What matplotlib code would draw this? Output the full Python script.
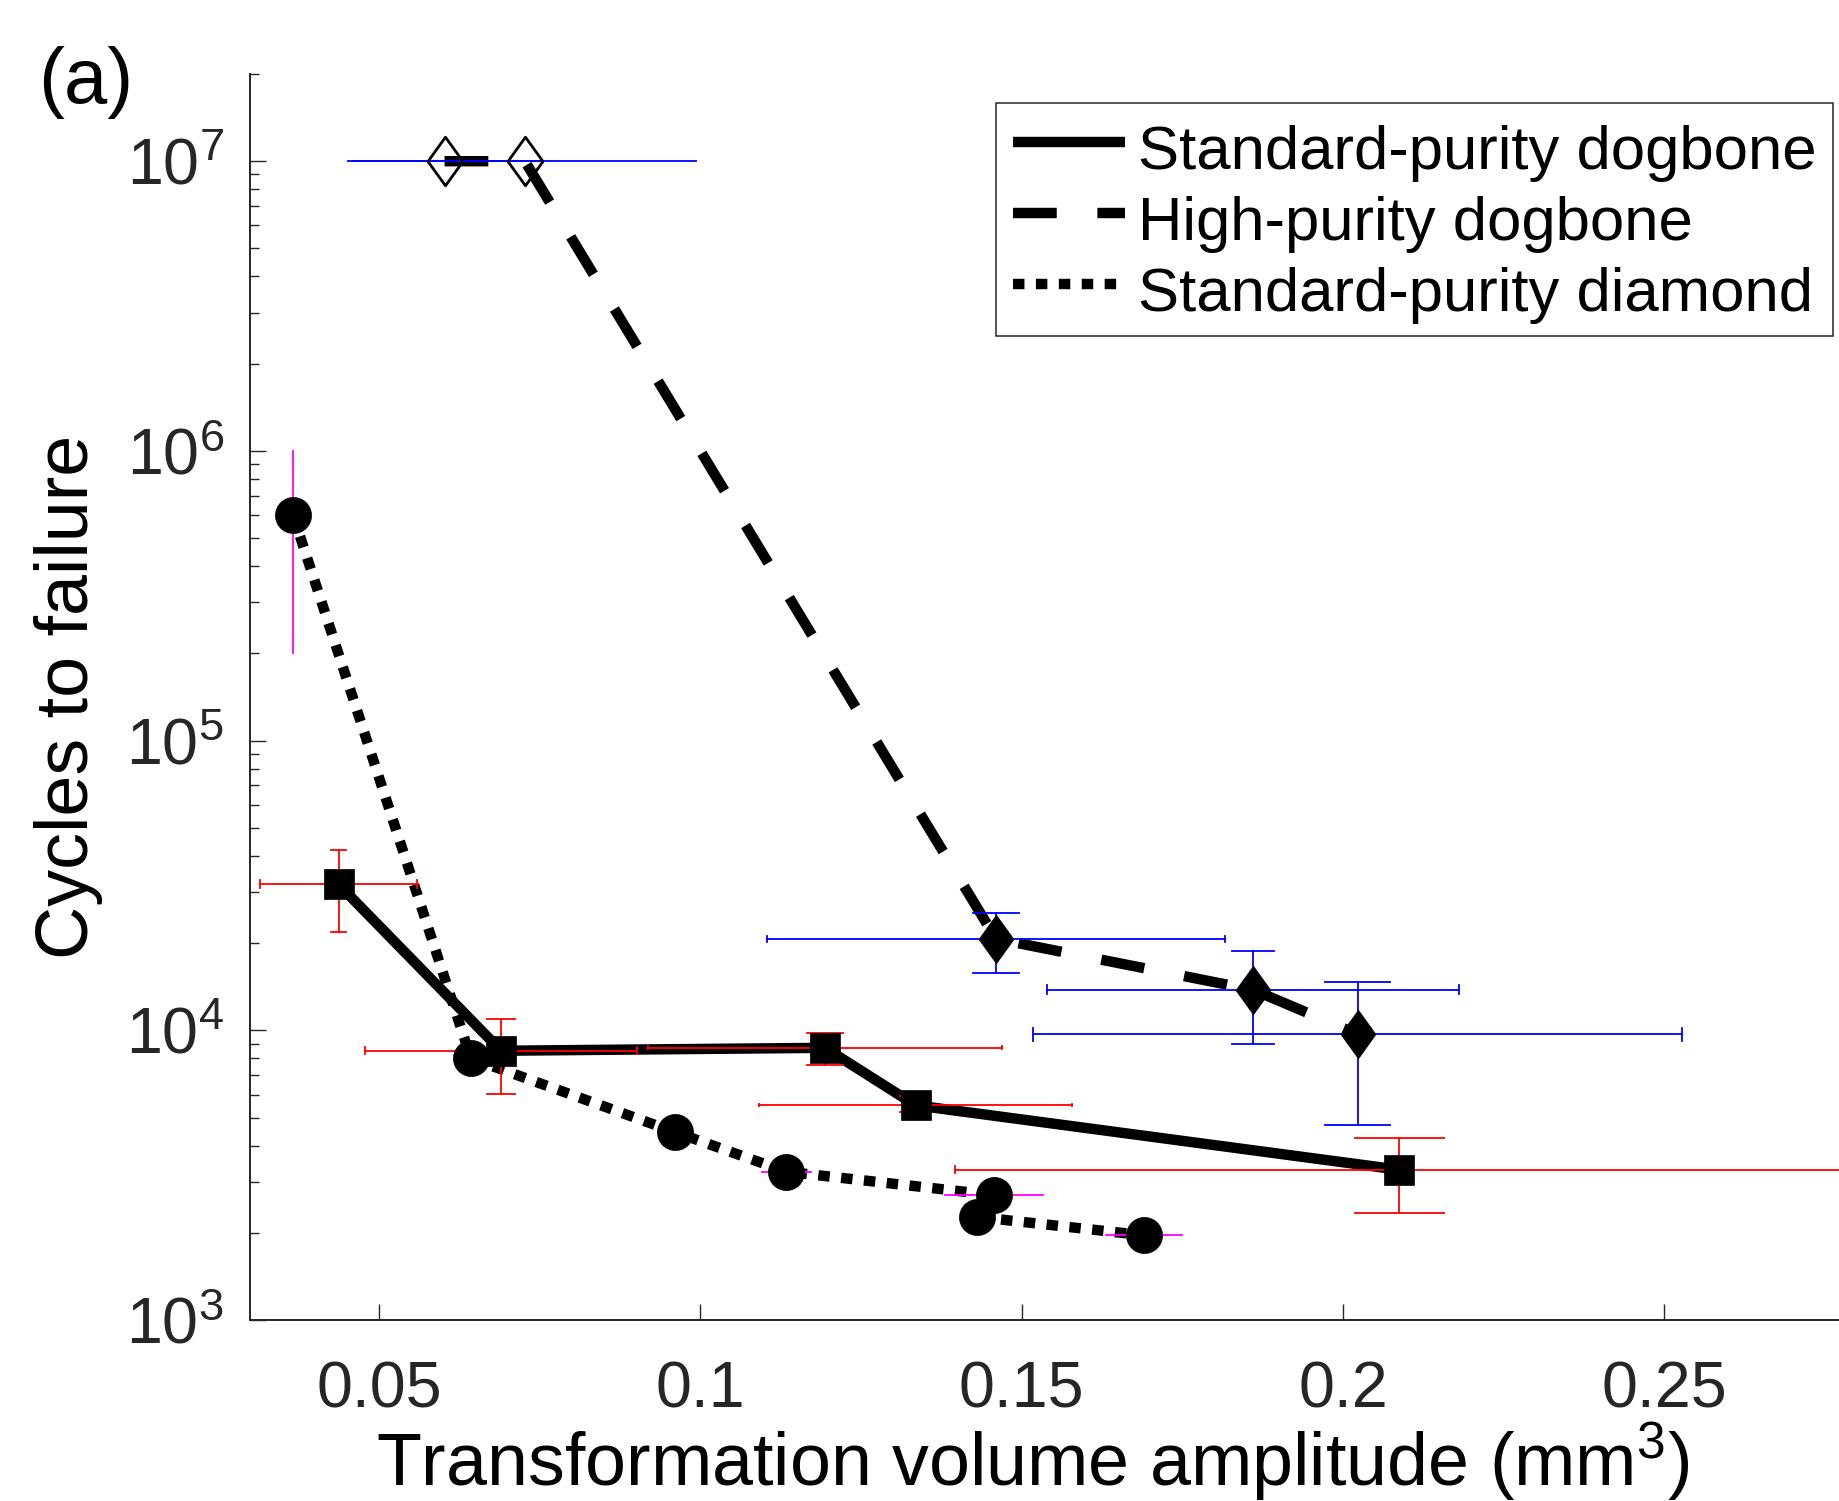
import numpy as np
import matplotlib
matplotlib.use("Agg")
import matplotlib.pyplot as plt
from matplotlib.path import Path
from matplotlib.transforms import Affine2D
from matplotlib.ticker import LogLocator, NullLocator, NullFormatter, LogFormatterSciNotation, FixedLocator, FixedFormatter

plt.rcParams['font.family'] = ['Liberation Sans', 'DejaVu Sans']
plt.rcParams['mathtext.fontset'] = 'custom'
plt.rcParams['mathtext.rm'] = 'Liberation Sans'
plt.rcParams['mathtext.it'] = 'Liberation Sans:italic'
plt.rcParams['mathtext.bf'] = 'Liberation Sans:bold'
plt.rcParams['mathtext.default'] = 'regular'

# ---------------- data ----------------
labels = ["Standard-purity dogbone", "High-purity dogbone", "Standard-purity diamond"]

# Standard-purity dogbone (squares, solid)
sd_x = [0.0437, 0.0690, 0.1194, 0.1335, 0.2088]
sd_y = [3.19e4, 8.5e3, 8.7e3, 5.51e3, 3.3e3]
sd_xerr = [0.0122, 0.0212, 0.0275, 0.0243, 0.0692]
sd_ylo = [2.18e4, 6.05e3, 7.6e3, 5.21e3, 2.34e3]
sd_yhi = [4.19e4, 1.09e4, 9.8e3, 5.92e3, 4.24e3]

# High-purity dogbone (diamonds, dashed); first two are run-outs (open)
hd_x = [0.0602, 0.0727, 0.1460, 0.1860, 0.2023]
hd_y = [1.0e7, 1.0e7, 2.07e4, 1.38e4, 9.7e3]
hd_open = [True, True, False, False, False]
hd_xerr = [0.0150, 0.0267, 0.0356, 0.0321, 0.0505]
hd_ylo = [1.0e7, 1.0e7, 1.58e4, 8.98e3, 4.7e3]
hd_yhi = [1.0e7, 1.0e7, 2.55e4, 1.88e4, 1.47e4]

# Standard-purity diamond (circles, dotted)
sm_x = [0.0366, 0.0643, 0.0961, 0.1134, 0.1457, 0.1430, 0.1691]
sm_y = [6.03e5, 8.0e3, 4.45e3, 3.25e3, 2.70e3, 2.27e3, 1.96e3]
sm_xerr = [0.0, 0.0, 0.0, 0.0038, 0.0076, 0.0, 0.0059]
sm_ylo = [2.0e5, 8.0e3, 4.45e3, 3.25e3, 2.70e3, 2.27e3, 1.96e3]
sm_yhi = [1.0e6, 8.0e3, 4.45e3, 3.25e3, 2.70e3, 2.27e3, 1.96e3]

xticks = [0.05, 0.1, 0.15, 0.2, 0.25]
xticklabels = ["0.05", "0.1", "0.15", "0.2", "0.25"]

# ---------------- figure ----------------
W, H = 1840, 1501
fig = plt.figure(figsize=(W / 100, H / 100), dpi=100)
ax_l, ax_r, ax_b, ax_t = 250.5, 1857.0, 1320.0, 74.0
ax = fig.add_axes([ax_l / W, 1 - ax_b / H, (ax_r - ax_l) / W, (ax_b - ax_t) / H])
ax.set_yscale('log')
ax.set_xlim(0.03, 0.28)
ax.set_ylim(1e3, 2e7)

LW = 7.5
ax.plot(sm_x, sm_y, color='k', lw=LW, linestyle=(0, (1.1, 1.1)),
        dash_capstyle='butt', label=labels[2], zorder=2.0)
ax.plot(sd_x, sd_y, color='k', lw=LW, linestyle='-', solid_capstyle='butt',
        label=labels[0], zorder=2.1)
ax.plot(hd_x, hd_y, color='k', lw=LW, linestyle=(0, (4.2, 3.9)),
        dash_capstyle='butt', label=labels[1], zorder=2.2)

ELW = 1.3


def draw_err(xs, ys, xerr, ylo, yhi, color):
    for xi, yi, xe, yl, yh in zip(xs, ys, xerr, ylo, yhi):
        if xe > 0:
            ax.plot([xi - xe, xi + xe], [yi, yi], color=color, lw=ELW, zorder=3)
            ch = 0.1 * (yh - yl) / 2.0
            if ch > 0:
                for xx in (xi - xe, xi + xe):
                    ax.plot([xx, xx], [yi - ch, yi + ch], color=color, lw=ELW, zorder=3)
        if yh > yl:
            ax.plot([xi, xi], [yl, yh], color=color, lw=ELW, zorder=3)
            cw = 0.1 * xe
            if cw > 0:
                for yy in (yl, yh):
                    ax.plot([xi - cw, xi + cw], [yy, yy], color=color, lw=ELW, zorder=3)


draw_err(sd_x, sd_y, sd_xerr, sd_ylo, sd_yhi, (1, 0, 0))
draw_err(hd_x, hd_y, hd_xerr, hd_ylo, hd_yhi, (0, 0, 1))
draw_err(sm_x, sm_y, sm_xerr, sm_ylo, sm_yhi, (1, 0, 1))

# markers
diamond = Path([(0, 1), (0.72, 0), (0, -1), (-0.72, 0), (0, 1)],
               [Path.MOVETO, Path.LINETO, Path.LINETO, Path.LINETO, Path.CLOSEPOLY])
ax.plot(sm_x, sm_y, linestyle='none', marker='o', ms=26, mfc='k', mec='k', mew=0.5, zorder=4)
ax.plot(sd_x, sd_y, linestyle='none', marker='s', ms=21.5, mfc='k', mec='k', mew=0.5, zorder=4.2)
hx_f = [x for x, o in zip(hd_x, hd_open) if not o]
hy_f = [y for y, o in zip(hd_y, hd_open) if not o]
hx_o = [x for x, o in zip(hd_x, hd_open) if o]
hy_o = [y for y, o in zip(hd_y, hd_open) if o]
ax.plot(hx_f, hy_f, linestyle='none', marker=diamond, ms=35, mfc='k', mec='k', mew=0.5, zorder=4.3)
ax.plot(hx_o, hy_o, linestyle='none', marker=diamond, ms=35, mfc='none', mec='k', mew=2.0, zorder=4.3)

# axes styling
gray = '#262626'
for s in ('top', 'right'):
    ax.spines[s].set_visible(False)
for s in ('left', 'bottom'):
    ax.spines[s].set_color(gray)
    ax.spines[s].set_linewidth(1.4)

ax.xaxis.set_major_locator(FixedLocator(xticks))
ax.xaxis.set_major_formatter(FixedFormatter(xticklabels))
ax.xaxis.set_minor_locator(NullLocator())
ax.yaxis.set_major_locator(LogLocator(base=10, numticks=20))
ax.yaxis.set_major_formatter(LogFormatterSciNotation())
ax.yaxis.set_minor_locator(LogLocator(base=10, subs=np.arange(2, 10), numticks=20))
ax.yaxis.set_minor_formatter(NullFormatter())

ax.tick_params(axis='both', which='major', direction='in', length=11.5, width=1.0,
               color=gray, labelcolor=gray, labelsize=46.5)
ax.tick_params(axis='both', which='minor', direction='in', length=6.8, width=1.0, color=gray)
ax.tick_params(axis='x', which='major', pad=29)
ax.tick_params(axis='y', which='major', pad=19)
ax.tick_params(top=False, right=False)

ax.set_xlabel('Transformation volume amplitude (mm$^3$)', fontsize=53, color='k')
ax.xaxis.label.set_va('baseline')
ax.xaxis.set_label_coords((1033 - ax_l) / (ax_r - ax_l), -(1486 - ax_b) / (ax_b - ax_t))
ax.set_ylabel('Cycles to failure', fontsize=53, color='k')
ax.yaxis.label.set_va('center')
ax.yaxis.label.set_ha('center')
ax.yaxis.set_label_coords((68 - ax_l) / (ax_r - ax_l), 0.5)

fig.text(38 / W, 1 - 103 / H, '(a)', fontsize=56, ha='left', va='baseline', color='k')

h, l = ax.get_legend_handles_labels()
hmap = dict(zip(l, h))
leg = ax.legend([hmap[k] for k in labels], labels, loc='upper left',
                bbox_to_anchor=(996 / W, 1 - 103 / H), bbox_transform=fig.transFigure,
                borderaxespad=0, fontsize=44.4, handlelength=1.815, handletextpad=0.21,
                borderpad=0.275, labelspacing=0.227, fancybox=False, framealpha=1,
                edgecolor=gray)
leg.get_frame().set_linewidth(1.1)
for t in leg.get_texts():
    t.set_transform(t.get_transform() + Affine2D().translate(0, -5))

fig.savefig('out.png', dpi=100)
